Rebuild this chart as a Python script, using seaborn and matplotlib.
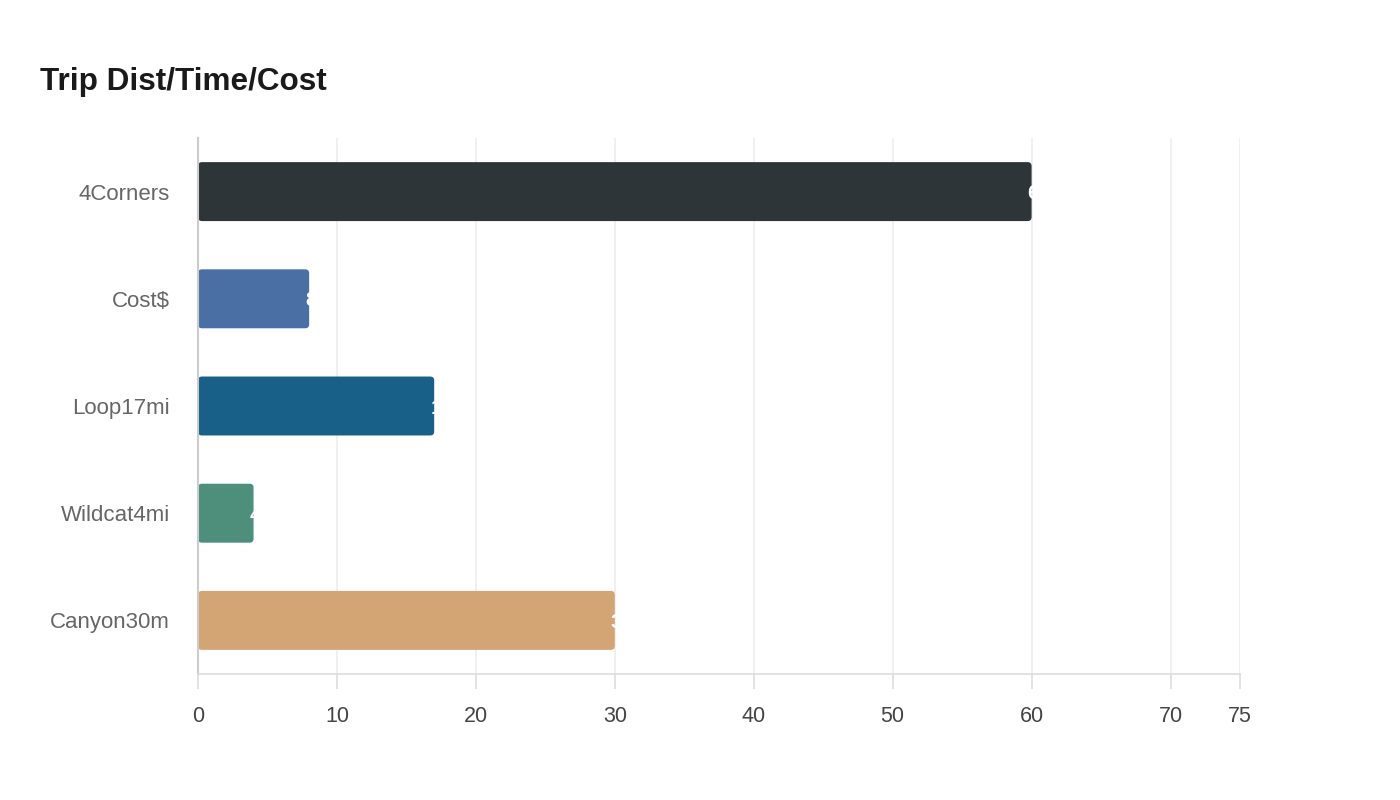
import matplotlib
matplotlib.use("Agg")
import matplotlib.pyplot as plt
import seaborn as sns
import pandas as pd
from matplotlib.patches import FancyBboxPatch
from matplotlib.transforms import offset_copy

categories = ["4Corners", "Cost$", "Loop17mi", "Wildcat4mi", "Canyon30m"]
values = [60, 8, 17, 4, 30]
colors = ["#2e3538", "#4a6fa5", "#186087", "#4e8f7b", "#d4a574"]
xticks = [0, 10, 20, 30, 40, 50, 60, 70, 75]
title = "Trip Dist/Time/Cost"

sns.set_theme(style="white")
plt.rcParams["font.family"] = ["Liberation Sans", "DejaVu Sans"]

df = pd.DataFrame({"cat": categories, "val": values})

fig = plt.figure(figsize=(14, 8), dpi=100)
ax = fig.add_axes([198/1400, 1-674/800, (1240-198)/1400, (674-138)/800])

sns.barplot(data=df, y="cat", x="val", hue="cat", palette=colors, legend=False,
            width=0.55, saturation=1, ax=ax, orient="h")

ax.set_xlim(0, 75)
ax.set_ylim(4.5, -0.5)
ax.set_xticks(xticks)
ax.set_xticklabels([str(t) for t in xticks])
ax.set_xlabel("")
ax.set_ylabel("")

# rounded bars
fig.canvas.draw()
bb = ax.get_window_extent()
xpp = 75 / bb.width
ypp = 5 / bb.height
r_px = 4
old = list(ax.patches)
newp = []
for p in old:
    x0, y0 = p.get_x(), p.get_y()
    w, h = p.get_width(), p.get_height()
    fc = p.get_facecolor()
    p.remove()
    fp = FancyBboxPatch((x0, y0), w, h,
                        boxstyle=f"round,pad=0,rounding_size={r_px*xpp}",
                        mutation_aspect=ypp/xpp, facecolor=fc, edgecolor="none",
                        zorder=2)
    ax.add_patch(fp)
    newp.append(fp)

# value labels clipped to bars
for i, (v, fp) in enumerate(zip(values, newp)):
    tr = offset_copy(ax.transData, fig=fig, x=-4, y=0, units="dots")
    t = ax.text(v, i + 0.02, str(v), transform=tr, ha="left", va="center",
                color="white", fontsize=15, fontweight="bold", zorder=3)
    t.set_clip_path(fp)

ax.set_axisbelow(True)
ax.grid(axis="x", color="#eeeeee", linewidth=1.2)
ax.grid(axis="y", visible=False)
for s in ["top", "right"]:
    ax.spines[s].set_visible(False)
ax.spines["left"].set_color("#cccccc")
ax.spines["left"].set_linewidth(1.5)
ax.spines["bottom"].set_color("#dddddd")
ax.spines["bottom"].set_linewidth(1.2)
ax.tick_params(axis="x", length=11, width=1.2, color="#dddddd", labelsize=15.5,
               labelcolor="#444444", pad=12, bottom=True)
ax.tick_params(axis="y", length=0, labelsize=16, labelcolor="#666666", pad=20)

fig.text(40/1400, 1-90/800, title, fontsize=22.7, fontweight="bold",
         color="#1a1a1a", ha="left", va="baseline")

fig.savefig("out.png", dpi=100, facecolor="white")
